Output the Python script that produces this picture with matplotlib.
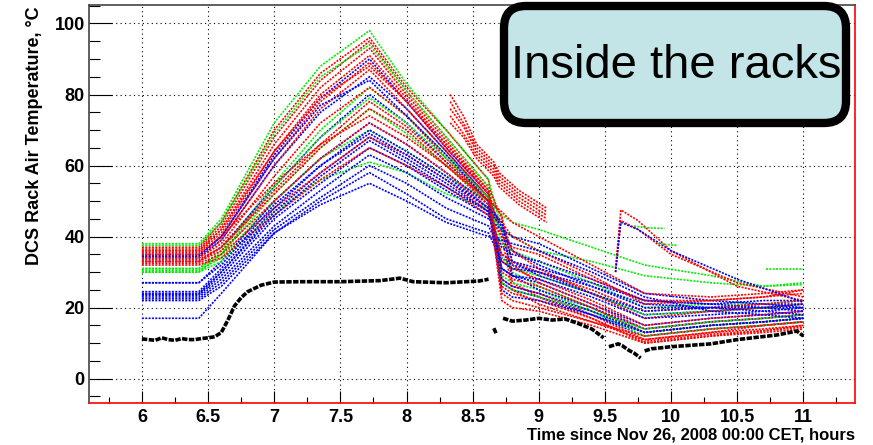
import numpy as np
import matplotlib
matplotlib.use("Agg")
import matplotlib.pyplot as plt
from matplotlib.patches import FancyBboxPatch
from matplotlib.transforms import IdentityTransform
from matplotlib.ticker import MultipleLocator

plt.rcParams['font.family'] = ['Liberation Sans', 'DejaVu Sans']

knot_t = [6.0, 6.43, 6.6, 7.0, 7.35, 7.72, 8.0, 8.3, 8.62, 8.72, 8.8, 9.0, 9.4, 9.8, 10.3, 10.7, 11.0]

red_vals = [
    [37, 37, 44, 70, 86, 96, 82, 70, 56, 28, 26, 24, 18, 11, 13, 14, 15],
    [36.5, 36.5, 43, 68, 84, 95, 81, 68, 54, 45, 27, 23, 17, 10.5, 12.5, 13.5, 14.5],
    [36, 36, 42, 66, 82, 93, 80, 67, 53, 26, 24, 22, 17, 10, 12, 13.5, 15],
    [35.5, 35.5, 41, 64, 80, 91, 79, 66, 52, 40, 25, 21, 16, 11, 13, 15, 16],
    [35, 35, 40, 62, 78, 89, 78, 65, 52, 30, 28, 26, 20, 13, 15, 16, 17],
    [34.5, 34.5, 39, 60, 76, 87, 76, 64, 51, 46, 32, 27, 21, 14, 16, 17, 18],
    [34, 34, 38, 57, 72, 82, 74, 62, 50, 33, 31, 28, 22, 15, 17, 18, 19],
    [33.5, 33.5, 37, 52, 65, 76, 70, 60, 49, 44, 36, 31, 24, 17, 19, 20, 21],
    [33, 33, 36, 50, 62, 72, 66, 58, 48, 35, 33, 30, 25, 19, 20, 21, 22],
    [32.5, 32.5, 35, 48, 58, 68, 63, 56, 47, 44, 40, 36, 29, 21, 22, 23, 24],
    [32, 32, 34, 46, 56, 65, 60, 54, 46, 40, 37, 35, 28, 22, 22, 23, 25],
    [35, 35, 40, 55, 66, 74, 68, 60, 50, 47, 44, 40, 32, 24, 23, 24, 25],
    [36, 36, 42, 64, 79, 88, 78, 66, 53, 24, 22, 20, 16, 12, 14, 15, 16],
    [33, 33, 37, 53, 66, 78, 71, 61, 50, 22, 20, 19, 15, 10, 12, 13, 14],
]

green_vals = [
    [38, 38, 45, 72, 88, 98, 83, 70, 56, 42, 30, 26, 20, 13, 15, 16, 17],
    [37.5, 37.5, 44, 69, 85, 94, 81, 68, 54, 29, 27, 25, 19, 12, 14, 15, 16],
    [31, 31, 36, 55, 70, 82, 74, 63, 51, 38, 36, 33, 27, 20, 21, 21, 22],
    [30.5, 30.5, 34, 50, 62, 70, 64, 57, 50, 46, 44, 42, 37, 32, 29, 26, 26.5],
    [30, 30, 33, 47, 56, 61, 58, 52, 48, 42, 40, 36, 33, 29, 27, 26, 27],
    [31, 31, 35, 52, 65, 76, 69, 60, 50, 34, 31, 29, 24, 18, 19, 20, 21],
    [30, 30, 35, 54, 68, 79, 72, 62, 51, 27, 25, 23, 19, 14, 16, 17, 18],
]

blue_vals = [
    [35, 35, 40, 63, 79, 90, 78, 65, 52, 27, 25, 23, 18, 12, 14, 15, 16],
    [34, 34, 39, 60, 75, 85, 76, 64, 51, 42, 29, 25, 20, 14, 16, 17, 18],
    [33, 33, 37, 54, 68, 80, 72, 61, 50, 31, 29, 27, 21, 15, 17, 18, 19],
    [27, 27, 33, 50, 62, 72, 66, 58, 49, 34, 32, 30, 24, 18, 19, 20, 20],
    [24, 24, 30, 47, 58, 68, 62, 55, 47, 43, 36, 32, 26, 20, 20, 21, 21],
    [23.5, 23.5, 29, 45, 55, 65, 60, 53, 46, 37, 35, 33, 28, 22, 21, 22, 22],
    [23, 23, 28, 43, 53, 63, 58, 51, 45, 42, 40, 38, 31, 24, 22, 21, 20],
    [22.5, 22.5, 27, 42, 51, 60, 55, 48, 43, 35, 33, 31, 27, 22, 21, 20, 19],
    [17, 17, 24, 41, 50, 58, 52, 45, 41, 33, 31, 30, 26, 21, 20, 19, 18],
    [22, 22, 26, 41, 49, 55, 50, 44, 40, 39, 38, 36, 30, 23, 19, 18, 17],
    [24.5, 24.5, 31, 48, 60, 70, 64, 57, 48, 25, 23, 22, 18, 13, 15, 16, 17],
    [34.5, 34.5, 40, 62, 77, 84, 74, 63, 50, 28, 26, 24, 19, 13, 15, 16, 17],
    [23.8, 23.8, 30, 46, 57, 67, 61, 54, 47, 31, 29, 28, 23, 17, 18, 19, 20],
    [27, 27, 32, 49, 60, 69, 63, 56, 48, 44, 33, 29, 24, 19, 20, 20, 21],
]

# red bunch that reappears around 8.3 h
bunch_t = [8.33, 8.43, 8.53, 8.66, 8.7, 8.85, 9.06]
bunch_vals = [
    [80, 74, 66, 61, 58, 53, 48],
    [78, 72, 65, 60, 57, 52, 47],
    [76, 71, 64, 59, 56, 51, 46],
    [74, 69, 63, 58, 55, 50, 45],
    [72, 68, 62, 57, 54, 49, 44],
]

# sensors that jump up near 9.6 h
jump_t = [9.58, 9.62, 9.75, 10.0, 10.5, 11.0]
jump_red = [[31, 47.5, 44.5, 36, 26, 22], [30, 44.5, 42, 35, 27, 23]]
jump_blue = [[30, 44, 42, 36, 28, 21.5]]

green_bits_t = [[9.72, 9.8, 9.95], [10.72, 11.0], [9.9, 10.05]]
green_bits_v = [[43, 42.5, 42.3], [31, 31], [38, 37.5]]

# reference sensor (black)
black_t = [6.0, 6.05, 6.1, 6.15, 6.2, 6.25, 6.3, 6.35, 6.4, 6.45, 6.5, 6.55, 6.6, 6.65,
           6.7, 6.75, 6.8, 6.9, 7.0, 7.2, 7.5, 7.8, 7.95, 8.05, 8.3, 8.55, 8.62,
           np.nan, 8.66, 8.68, np.nan, 8.73, 8.8, 8.9, 9.0, 9.1, 9.2, 9.3, 9.4, 9.49,
           np.nan, 9.53, 9.6, 9.63, 9.68, 9.72, 9.77, np.nan, 9.8, 9.85, 10.0, 10.3,
           10.5, 10.8, 10.95, 11.0]
black_v = [11.2, 11.0, 10.8, 11.5, 11.0, 10.8, 11.3, 11.0, 11.0, 11.3, 11.5, 11.8, 13, 16.5,
           20.5, 22.8, 24.5, 26.3, 27.2, 27.3, 27.3, 27.6, 28.3, 27.3, 27.0, 27.5, 28.0,
           np.nan, 14.2, 12.5, np.nan, 17.0, 16.2, 16.5, 17.0, 16.5, 16.8, 15.5, 14.0, 11.5,
           np.nan, 9.0, 9.8, 9.3, 8.0, 7.2, 5.8, np.nan, 7.8, 8.4, 9.0, 9.8,
           11.0, 12.3, 13.4, 12.0]

fig = plt.figure(figsize=(8.73, 4.45), dpi=100)
ax = fig.add_axes([89/873, 42/445, 766/873, 398/445])

dot = (0, (1.2, 0.8))
n = max(len(red_vals), len(green_vals), len(blue_vals))
for i in range(n):
    if i < len(red_vals):
        ax.plot(knot_t, red_vals[i], color='#ff0000', lw=1.2, ls=dot)
    if i < len(green_vals):
        ax.plot(knot_t, green_vals[i], color='#00ee00', lw=1.2, ls=dot)
    if i < len(blue_vals):
        ax.plot(knot_t, blue_vals[i], color='#0000ff', lw=1.2, ls=dot)

for v in bunch_vals:
    ax.plot(bunch_t, v, color='#ff0000', lw=1.2, ls=dot)
for v in jump_red:
    ax.plot(jump_t, v, color='#ff0000', lw=1.2, ls=dot)
for v in jump_blue:
    ax.plot(jump_t, v, color='#0000ff', lw=1.2, ls=dot)
for t, v in zip(green_bits_t, green_bits_v):
    ax.plot(t, v, color='#00ee00', lw=1.2, ls=dot)

ax.plot(black_t, black_v, color='black', lw=2.6, ls=(0, (1.5, 0.4)))

ax.set_xlim(5.6, 11.39)
ax.set_ylim(-6.85, 105.2)
ax.xaxis.set_major_locator(MultipleLocator(0.5))
ax.xaxis.set_minor_locator(MultipleLocator(0.25))
ax.yaxis.set_major_locator(MultipleLocator(20))
ax.yaxis.set_minor_locator(MultipleLocator(5))
ax.set_xticks([6, 6.5, 7, 7.5, 8, 8.5, 9, 9.5, 10, 10.5, 11])
ax.set_xticklabels(['6', '6.5', '7', '7.5', '8', '8.5', '9', '9.5', '10', '10.5', '11'])
ax.tick_params(axis='x', which='major', direction='in', length=8.6, width=0.8, pad=4, labelsize=13)
ax.tick_params(axis='x', which='minor', direction='in', length=4.3, width=0.8)
ax.tick_params(axis='y', which='major', direction='in', length=16.5, width=0.8, pad=3, labelsize=13)
ax.tick_params(axis='y', which='minor', direction='in', length=8.2, width=0.8)
for lab in ax.get_xticklabels() + ax.get_yticklabels():
    lab.set_fontweight('bold')
ax.grid(True, which='major', color='black', lw=0.8, ls=(0, (1, 3)))

ax.spines['left'].set_color('#444444')
ax.spines['top'].set_color('#444444')
ax.spines['right'].set_color('#ff0000')
ax.spines['bottom'].set_color('#ff0000')
for s in ax.spines.values():
    s.set_linewidth(1.2)

fig.text(35/873, 1 - 6/445, 'DCS Rack Air Temperature, °C', rotation=90,
         ha='center', va='top', fontsize=13, fontweight='bold')
fig.text(855/873, 1 - 435/445, 'Time since Nov 26, 2008 00:00 CET, hours',
         ha='right', va='center', fontsize=12, fontweight='bold')

box = FancyBboxPatch((504, 322), 342, 117, boxstyle="round,pad=0,rounding_size=22",
                     transform=IdentityTransform(), facecolor='#c4e5e8',
                     edgecolor='black', linewidth=6, zorder=10)
fig.add_artist(box)
fig.text(676/873, 1 - 66/445, 'Inside the racks', fontsize=34, ha='center', va='center',
         zorder=11)

fig.savefig('out.png', dpi=100)
